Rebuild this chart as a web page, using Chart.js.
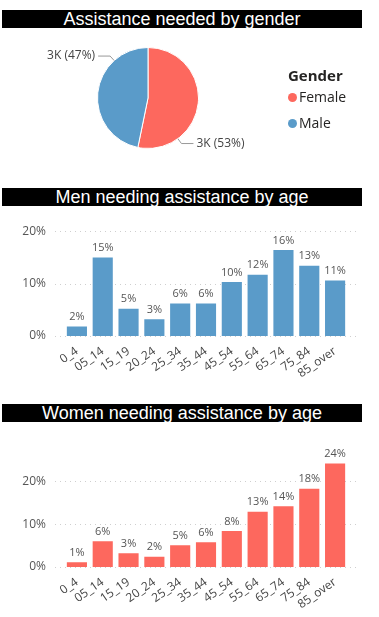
<!DOCTYPE html>
<html>
<head>
<meta charset="utf-8">
<script src="https://cdn.jsdelivr.net/npm/chart.js@4"></script>
<style>
	body { margin: 0; background: #fff; width: 379px; height: 617px; position: relative; overflow: hidden; }
	.title {
		position: absolute; left: 2px; width: 360px; height: 18px;
		background: #000; color: #fff; text-align: center;
		font: 18px "Liberation Sans", Arial, sans-serif; line-height: 18px;
	}
	.box { position: absolute; left: 0; width: 362px; }
	#legend { position: absolute; left: 288px; top: 66px; font-family: "Open Sans", "Noto Sans", sans-serif; color: #252423; }
	#legend .head { font-size: 15px; font-weight: bold; line-height: 18px; }
	#legend .item { font-size: 14px; line-height: 26px; white-space: nowrap; }
	#legend .dot { display: inline-block; width: 9px; height: 9px; border-radius: 50%; margin-right: 2px; }
</style>
</head>
<body>
<div class="title" style="top:10px">Assistance needed by gender</div>
<div class="box" style="top:30px;height:140px"><canvas id="gender"></canvas></div>
<div id="legend"><div class="head">Gender</div></div>

<div class="title" style="top:188px">Men needing assistance by age</div>
<div class="box" style="top:206px;height:174px"><canvas id="men"></canvas></div>

<div class="title" style="top:404px">Women needing assistance by age</div>
<div class="box" style="top:422px;height:195px"><canvas id="women"></canvas></div>

<script>
const genders = ["Female", "Male"];
const genderCounts = [3300, 2900];
const genderColors = ["#FD685E", "#5A9BC9"];

const ageGroups = ["0_4", "05_14", "15_19", "20_24", "25_34", "35_44", "45_54", "55_64", "65_74", "75_84", "85_over"];
const menPct = [1.8, 15.0, 5.2, 3.2, 6.2, 6.2, 10.3, 11.7, 16.4, 13.4, 10.6];
const womenPct = [1.1, 6.0, 3.2, 2.4, 5.1, 5.8, 8.4, 12.9, 14.2, 18.3, 24.2];
const pctTicks = [0, 10, 20];

const FONT = "'Open Sans', 'Noto Sans', sans-serif";

// legend built from the same arrays
const legend = document.getElementById("legend");
genders.forEach((g, i) => {
	const row = document.createElement("div");
	row.className = "item";
	row.innerHTML = '<span class="dot" style="background:' + genderColors[i] + '"></span>' + g;
	legend.appendChild(row);
});

// leader-line labels on the pie, like "3K (53%)"
const pieLabels = {
	id: "pieLabels",
	afterDatasetsDraw(chart) {
		const ctx = chart.ctx;
		const values = chart.data.datasets[0].data;
		const total = values.reduce((a, b) => a + b, 0);
		chart.getDatasetMeta(0).data.forEach((arc, i) => {
			const a = arc.startAngle + 0.75 * (arc.endAngle - arc.startAngle);
			const r = arc.outerRadius;
			const x0 = arc.x + Math.cos(a) * r, y0 = arc.y + Math.sin(a) * r;
			const x1 = arc.x + Math.cos(a) * (r + 6), y1 = arc.y + Math.sin(a) * (r + 6);
			const dir = Math.cos(a) >= 0 ? 1 : -1;
			const x2 = x1 + dir * 12;
			ctx.save();
			ctx.strokeStyle = "#999";
			ctx.lineWidth = 1;
			ctx.beginPath();
			ctx.moveTo(x0, y0);
			ctx.lineTo(x1, y1);
			ctx.lineTo(x2, y1);
			ctx.stroke();
			ctx.fillStyle = "#444";
			ctx.font = "12px " + FONT;
			ctx.textAlign = dir > 0 ? "left" : "right";
			ctx.textBaseline = "middle";
			const pct = Math.round(values[i] / total * 100);
			ctx.fillText(Math.round(values[i] / 1000) + "K (" + pct + "%)", x2 + dir * 3, y1);
			ctx.restore();
		});
	},
};

// value labels above bars
const barLabels = {
	id: "barLabels",
	afterDatasetsDraw(chart) {
		const ctx = chart.ctx;
		const values = chart.data.datasets[0].data;
		ctx.save();
		ctx.fillStyle = "#555";
		ctx.font = "11px " + FONT;
		ctx.textAlign = "center";
		ctx.textBaseline = "bottom";
		chart.getDatasetMeta(0).data.forEach((bar, i) => {
			ctx.fillText(Math.round(values[i]) + "%", bar.x, bar.y - 4);
		});
		ctx.restore();
	},
};

// dotted gridlines that run a bit past the bars
const dottedGrid = {
	id: "dottedGrid",
	beforeDatasetsDraw(chart) {
		const ctx = chart.ctx;
		const { left, right } = chart.chartArea;
		const y = chart.scales.y;
		ctx.save();
		ctx.strokeStyle = "#cfcfcf";
		ctx.lineWidth = 1;
		ctx.setLineDash([1, 4]);
		y.ticks.forEach((t) => {
			const py = Math.round(y.getPixelForValue(t.value)) + 0.5;
			ctx.beginPath();
			ctx.moveTo(left - 9, py);
			ctx.lineTo(right + 9, py);
			ctx.stroke();
		});
		ctx.restore();
	},
};

new Chart(document.getElementById("gender"), {
	type: "pie",
	data: {
		labels: genders,
		datasets: [{
			data: genderCounts,
			backgroundColor: genderColors,
			borderColor: "#fff",
			borderWidth: 1,
		}],
	},
	options: {
		responsive: true,
		maintainAspectRatio: false,
		animation: false,
		layout: { padding: { left: 0, right: 66, top: 17, bottom: 21 } },
		plugins: {
			tooltip: { enabled: false },
			legend: { display: false },
		},
	},
	plugins: [pieLabels],
});

function ageChart(id, values, color, yMax, padTop, xHeight) {
	return new Chart(document.getElementById(id), {
		type: "bar",
		data: {
			labels: ageGroups,
			datasets: [{
				data: values,
				backgroundColor: color,
				categoryPercentage: 1,
				barPercentage: 0.78,
			}],
		},
		options: {
			responsive: true,
			maintainAspectRatio: false,
			animation: false,
			layout: { padding: { left: 0, right: 14, top: padTop, bottom: 0 } },
			plugins: { legend: { display: false }, tooltip: { enabled: false } },
			scales: {
				x: {
					grid: { display: false },
					border: { display: false },
					ticks: {
						autoSkip: false,
						minRotation: 35,
						maxRotation: 35,
						padding: 0,
						color: "#444",
						font: { family: FONT, size: 12 },
					},
					afterFit: (s) => { s.height = xHeight; },
				},
				y: {
					min: 0,
					max: yMax,
					grid: { display: false, drawTicks: false },
					border: { display: false },
					afterBuildTicks: (s) => {
						s.ticks = pctTicks.map((v) => ({ value: v }));
					},
					ticks: {
						padding: 18,
						color: "#555",
						font: { family: FONT, size: 12 },
						callback: (v) => v + "%",
					},
					afterFit: (s) => { s.width = 64; },
				},
			},
		},
		plugins: [dottedGrid, barLabels],
	});
}

ageChart("men", menPct, "#5A9BC9", 20, 17, 44);
ageChart("women", womenPct, "#FD685E", 28, 21, 50);
</script>
</body>
</html>
